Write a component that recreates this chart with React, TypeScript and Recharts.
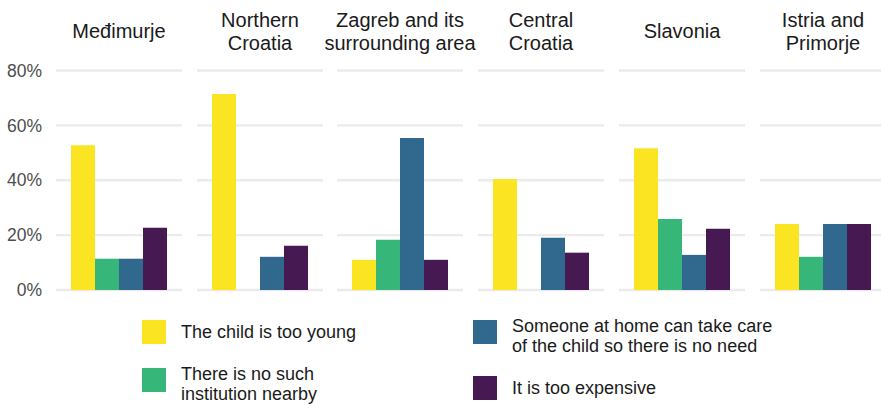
import { BarChart, Bar, XAxis, YAxis, CartesianGrid } from 'recharts';

const regions = [
  'Međimurje',
  'Northern Croatia',
  'Zagreb and its surrounding area',
  'Central Croatia',
  'Slavonia',
  'Istria and Primorje',
];
// how each panel title breaks into lines
const regionTitles = [
  ['Međimurje'],
  ['Northern', 'Croatia'],
  ['Zagreb and its', 'surrounding area'],
  ['Central', 'Croatia'],
  ['Slavonia'],
  ['Istria and', 'Primorje'],
];

const tooYoung = [52.8, 71.4, 11.0, 40.5, 51.7, 24.1];
const noInstitution = [11.4, 0, 18.3, 0, 25.9, 12.1];
const someoneAtHome = [11.4, 12.1, 55.4, 19.0, 12.8, 24.1];
const tooExpensive = [22.7, 16.1, 11.0, 13.6, 22.3, 24.1];

const seriesKeys = ['young', 'noInst', 'home', 'expensive'];
const seriesNames = [
  ['The child is too young'],
  ['There is no such', 'institution nearby'],
  ['Someone at home can take care', 'of the child so there is no need'],
  ['It is too expensive'],
];
const seriesColors = ['#FBE422', '#36B779', '#31688E', '#461953'];
const yTicks = [0, 20, 40, 60, 80];

const FONT = '"Liberation Sans", Arial, Helvetica, sans-serif';
const PLOT_W = 126;
const PANEL_STEP = 140.74;
const FIRST_PANEL_X = 56;

// legend layout: where each key square sits
const legendPos = [
  { x: 142, y: 320 },
  { x: 142, y: 368 },
  { x: 473, y: 320 },
  { x: 473, y: 376 },
];

function TitleTick(props: any) {
  const { x, y, payload } = props;
  const idx = regions.indexOf(payload.value);
  const lines = regionTitles[idx] || [payload.value];
  const base = y - 32.2;
  return (
    <text x={x} textAnchor="middle" fontSize={20} fill="#1a1a1a" fontFamily={FONT}>
      {lines.map((l, i) => (
        <tspan key={i} x={x} y={base + (i - (lines.length - 1) / 2) * 23.3}>
          {l}
        </tspan>
      ))}
    </text>
  );
}

function Panel({ i }: { i: number }) {
  const first = i === 0;
  const data = [
    {
      region: regions[i],
      young: tooYoung[i],
      noInst: noInstitution[i],
      home: someoneAtHome[i],
      expensive: tooExpensive[i],
    },
  ];
  const plotLeft = FIRST_PANEL_X + i * PANEL_STEP;
  const left = first ? 0 : plotLeft - 10;
  const width = first ? FIRST_PANEL_X + PLOT_W + 10 : PLOT_W + 20;
  return (
    <div style={{ position: 'absolute', left, top: 0 }}>
      <BarChart
        width={width}
        height={300}
        data={data}
        barSize={24}
        barGap={0}
        margin={{ top: 0, bottom: 10, left: first ? 0 : 10, right: 10 }}
      >
        <CartesianGrid vertical={false} stroke="#EBEBEB" strokeWidth={2.4} />
        <XAxis
          dataKey="region"
          orientation="top"
          height={70.5}
          axisLine={false}
          tickLine={false}
          tickSize={0}
          tickMargin={0}
          tick={<TitleTick />}
          interval={0}
        />
        <YAxis
          domain={[0, 80]}
          ticks={yTicks}
          interval={0}
          width={56}
          hide={!first}
          axisLine={false}
          tickLine={false}
          tickSize={0}
          tickMargin={14}
          tickFormatter={(v) => `${v}%`}
          tick={{ fill: '#4D4D4D', fontSize: 17.5, fontFamily: FONT }}
        />
        {seriesKeys.map((k, s) => (
          <Bar key={k} dataKey={k} fill={seriesColors[s]} isAnimationActive={false} />
        ))}
      </BarChart>
    </div>
  );
}

export default function App() {
  return (
    <div
      style={{
        position: 'absolute',
        left: 0,
        top: 0,
        width: 881,
        height: 408,
        background: '#fff',
        overflow: 'hidden',
        fontFamily: FONT,
      }}
    >
      <style>{'.recharts-surface{overflow:visible}'}</style>
      {regions.map((_, i) => (
        <Panel key={i} i={i} />
      ))}
      {seriesNames.map((lines, s) => (
        <div
          key={s}
          style={{
            position: 'absolute',
            left: legendPos[s].x,
            top: legendPos[s].y,
            height: 24,
            display: 'flex',
            alignItems: 'center',
            whiteSpace: 'nowrap',
          }}
        >
          <div style={{ width: 24, height: 24, background: seriesColors[s], flex: 'none' }} />
          <div
            style={{
              marginLeft: 15,
              fontSize: 18,
              lineHeight: '20px',
              color: '#1a1a1a',
              position: 'relative',
              top: lines.length > 1 ? 4 : 0,
            }}
          >
            {lines.map((l, j) => (
              <div key={j}>{l}</div>
            ))}
          </div>
        </div>
      ))}
    </div>
  );
}
